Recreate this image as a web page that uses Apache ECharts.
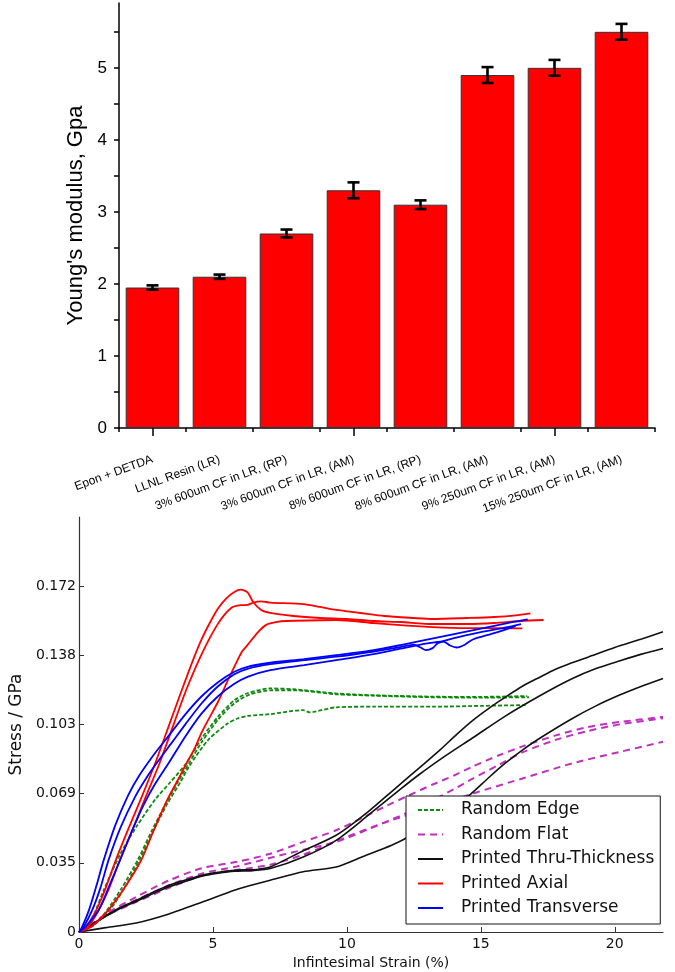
<!DOCTYPE html>
<html><head><meta charset="utf-8">
<script src="https://cdn.jsdelivr.net/npm/echarts@6/dist/echarts.min.js"></script>
<style>html,body{margin:0;padding:0;background:#fff}#c{width:675px;height:972px}</style>
</head><body><div id="c"></div>
<script>
// ---------- Top chart data ----------
var categories = ['Epon + DETDA','LLNL Resin (LR)','3% 600um CF in LR, (RP)','3% 600um CF in LR, (AM)','8% 600um CF in LR, (RP)','8% 600um CF in LR, (AM)','9% 250um CF in LR, (AM)','15% 250um CF in LR, (AM)'];
var modulus = [1.95, 2.10, 2.70, 3.30, 3.10, 4.90, 5.00, 5.50];
var modulusErr = [0.03, 0.03, 0.055, 0.11, 0.06, 0.11, 0.11, 0.11];
var yTicksTop = [0, 1, 2, 3, 4, 5];
var yMinorTop = [0.5, 1.5, 2.5, 3.5, 4.5, 5.5];

// ---------- Bottom chart data (strain %, stress GPa) ----------
var xTicksBottom = [0, 5, 10, 15, 20];
var yTickLabelsBottom = ['0', '0.035', '0.069', '0.103', '0.138', '0.172'];
var yTickStepBottom = 0.0344738; // 5 ksi in GPa

var edge1 = [[0,0],[0.3,0.003],[0.6,0.01],[0.92,0.0208],[1.53,0.0385],[2.14,0.0524],[2.87,0.0665],[3.4,0.0745],[3.97,0.0835],[4.58,0.0965],[5.19,0.1073],[5.8,0.1155],[6.29,0.119],[7.14,0.1214],[8.0,0.121],[9.6,0.1189],[11,0.118],[13.2,0.1173],[15,0.1172],[16.73,0.1176]];
var edge2 = [[0,0],[0.5,0.003],[1.1,0.01],[1.7,0.022],[2.3,0.037],[2.8,0.051],[3.3,0.064],[3.8,0.075],[4.1,0.0823],[4.82,0.0957],[5.56,0.104],[5.92,0.1064],[6.29,0.1077],[7.14,0.1086],[8.37,0.1106],[8.6,0.1095],[8.8,0.1098],[9.6,0.112],[11,0.1123],[13.2,0.1123],[15,0.1127],[16.67,0.1131]];
var edge3 = [[0,0],[0.5,0.003],[1.0,0.01],[1.6,0.022],[2.2,0.036],[2.7,0.05],[3.2,0.063],[3.7,0.075],[4.1,0.084],[4.6,0.095],[5.2,0.106],[5.8,0.114],[6.4,0.1185],[7.2,0.1205],[8.0,0.1205],[9.6,0.1185],[11,0.1178],[13.2,0.117],[15,0.1168],[16.8,0.117]];

var flat1 = [[0,0],[0.5,0.004],[1.0,0.009],[2.14,0.0175],[3.36,0.0257],[4.58,0.0318],[5.92,0.035],[7.14,0.039],[8.37,0.0449],[9.6,0.0507],[10.56,0.0568],[11.5,0.063],[12.3,0.068],[13.2,0.0735],[14.0,0.078],[14.7,0.0825],[15.7,0.0882],[16.55,0.0925],[17.8,0.098],[19.0,0.1022],[20.2,0.1047],[21.8,0.1072]];
var flat2 = [[0,0],[1.0,0.008],[2.14,0.016],[3.36,0.0233],[4.58,0.0291],[5.92,0.0328],[7.75,0.039],[9.6,0.0449],[10.8,0.0512],[12.26,0.0595],[13.2,0.0657],[14.0,0.0712],[14.7,0.0765],[15.7,0.0835],[16.55,0.0895],[17.8,0.0958],[19.0,0.1002],[20.2,0.1035],[21.8,0.1065]];
var flat3 = [[0,0],[1.0,0.008],[2.14,0.015],[3.36,0.022],[4.58,0.028],[5.92,0.031],[7.14,0.0335],[8.37,0.0385],[10.2,0.0485],[11.4,0.0545],[13.2,0.0623],[14.7,0.069],[16.55,0.0765],[18.4,0.084],[20.2,0.0898],[21.8,0.0948]];

var thru1 = [[0,0],[0.5,0.004],[0.92,0.0075],[1.5,0.012],[2.14,0.0158],[2.75,0.0197],[3.36,0.0233],[4.0,0.026],[4.58,0.0283],[5.2,0.0298],[5.8,0.0308],[6.3,0.031],[6.7,0.0313],[7.14,0.0324],[8.37,0.0405],[9.6,0.0482],[10.8,0.06],[11.8,0.0715],[12.88,0.0838],[13.5,0.091],[14.1,0.0985],[14.7,0.1055],[15.3,0.1115],[16.0,0.1178],[16.55,0.1225],[17.2,0.127],[17.77,0.1308],[18.4,0.1342],[19.0,0.137],[20.0,0.1418],[21.0,0.146],[21.8,0.1496]];
var thru2 = [[0,0],[0.5,0.0038],[0.92,0.0072],[1.5,0.0115],[2.14,0.0152],[2.75,0.019],[3.36,0.0225],[4.0,0.0254],[4.58,0.0278],[5.2,0.0293],[5.8,0.0303],[6.5,0.0306],[7.14,0.0316],[8.37,0.0374],[9.6,0.0457],[10.8,0.0582],[12.0,0.0712],[12.7,0.0785],[13.5,0.0862],[14.7,0.0968],[15.9,0.1075],[17.17,0.1175],[18.4,0.1262],[19.3,0.1313],[20.2,0.1352],[21.0,0.1385],[21.8,0.1413]];
var thru3 = [[0,0],[1.0,0.0022],[2.14,0.0045],[3.36,0.009],[4.58,0.0148],[5.8,0.0208],[6.29,0.0228],[7.14,0.0258],[8.37,0.030],[9.6,0.0324],[10.56,0.0374],[11.67,0.0432],[12.4,0.0482],[13.0,0.054],[13.6,0.0605],[14.1,0.0635],[14.6,0.0685],[15.3,0.077],[15.9,0.084],[16.5,0.0902],[17.17,0.0963],[18.4,0.1063],[19.3,0.1127],[20.2,0.1182],[21.0,0.1225],[21.8,0.1264]];

var axial1 = [[0,0],[0.3,0.003],[0.65,0.011],[1.0,0.022],[1.35,0.035],[1.8,0.05],[2.3,0.066],[2.87,0.085],[3.36,0.103],[3.85,0.121],[4.3,0.137],[4.58,0.146],[4.9,0.1545],[5.19,0.1612],[5.5,0.1663],[5.8,0.1695],[6.04,0.1706],[6.3,0.1692],[6.5,0.1645],[6.8,0.1605],[7.14,0.159],[8.0,0.1575],[9.0,0.1565],[10,0.156],[11,0.155],[12,0.1545],[13.2,0.1535],[14.5,0.1535],[15.5,0.154],[16.5,0.155],[17.34,0.1555]];
var axial2 = [[0,0],[0.3,0.002],[0.7,0.01],[1.1,0.021],[1.5,0.035],[2.0,0.051],[2.45,0.066],[2.99,0.0835],[3.36,0.097],[3.97,0.1195],[4.58,0.1385],[5.19,0.1537],[5.68,0.1615],[6.04,0.1629],[6.3,0.163],[6.5,0.1642],[6.8,0.1648],[7.14,0.1642],[8.37,0.1634],[9.0,0.162],[9.6,0.1605],[10.5,0.159],[11.4,0.1575],[12.5,0.1565],[13.2,0.156],[14.5,0.1565],[15.5,0.157],[16.3,0.1578],[16.85,0.1588]];
var axial3 = [[0,0],[0.5,0.003],[1.1,0.011],[1.7,0.022],[2.32,0.0357],[2.8,0.051],[3.3,0.066],[3.7,0.076],[4.03,0.0845],[4.3,0.091],[4.58,0.0995],[4.82,0.1056],[5.2,0.115],[5.56,0.1255],[5.92,0.1355],[6.1,0.14],[6.29,0.143],[6.65,0.149],[7.0,0.1532],[7.4,0.1546],[7.75,0.155],[9.6,0.1555],[11,0.154],[12,0.153],[13.2,0.152],[14.5,0.1515],[15.5,0.1515],[16.55,0.1513]];

var trans1 = [[0,0],[0.1,0.002],[0.37,0.0108],[0.65,0.023],[0.92,0.0357],[1.35,0.053],[1.83,0.068],[2.25,0.078],[2.8,0.0885],[3.36,0.098],[3.97,0.1085],[4.58,0.1175],[5.19,0.1245],[5.8,0.1297],[6.29,0.1322],[7.14,0.1342],[8.4,0.136],[9.6,0.138],[11,0.1405],[12,0.143],[12.9,0.1455],[14,0.1485],[15,0.1512],[16,0.154],[16.75,0.1558]];
var trans2 = [[0,0],[0.15,0.002],[0.49,0.0108],[0.8,0.022],[1.1,0.0357],[1.55,0.052],[2.08,0.067],[2.55,0.0775],[3.0,0.086],[3.5,0.095],[3.97,0.1035],[4.58,0.114],[5.19,0.1225],[5.8,0.1285],[6.29,0.1312],[7.14,0.1335],[8.4,0.1355],[9.6,0.1372],[11,0.1398],[12,0.142],[12.5,0.1432],[12.75,0.1418],[12.95,0.1405],[13.2,0.1415],[13.4,0.144],[14,0.1465],[15,0.1495],[16,0.152],[16.5,0.1535]];
var trans3 = [[0,0],[0.2,0.002],[0.73,0.0108],[1.1,0.022],[1.53,0.0357],[2.0,0.051],[2.4,0.063],[2.85,0.074],[3.36,0.0845],[3.97,0.0975],[4.58,0.109],[5.19,0.1175],[5.8,0.1237],[6.29,0.1272],[7.14,0.1305],[8.4,0.133],[9.6,0.1355],[11,0.1385],[12,0.1412],[13,0.1438],[13.6,0.1448],[13.85,0.1428],[14.1,0.1418],[14.4,0.1432],[14.7,0.1458],[15.5,0.149],[16.3,0.1525]];

// ---------- Chart ----------
var chart = echarts.init(document.getElementById('c'), null, {renderer: 'canvas'});

var FT = 'Liberation Sans, Arial, sans-serif';
var FB = 'DejaVu Sans, sans-serif';

var groups = [
  {name: 'Random Edge', color: '#118811', type: [4, 2], width: 1.8, curves: [edge1, edge2, edge3]},
  {name: 'Random Flat', color: '#bf30bf', type: [7, 5], width: 2, curves: [flat1, flat2, flat3]},
  {name: 'Printed Thru-Thickness', color: '#111111', type: 'solid', width: 1.6, curves: [thru1, thru2, thru3]},
  {name: 'Printed Axial', color: '#ff0000', type: 'solid', width: 1.8, curves: [axial1, axial2, axial3]},
  {name: 'Printed Transverse', color: '#0000ff', type: 'solid', width: 1.8, curves: [trans1, trans2, trans3]}
];

var lineSeries = [];
groups.forEach(function (g) {
  g.curves.forEach(function (c) {
    lineSeries.push({
      type: 'line', name: g.name, xAxisIndex: 2, yAxisIndex: 1,
      data: c, symbol: 'none', showSymbol: false, smooth: 0.25,
      lineStyle: {color: g.color, width: g.width, type: g.type},
      itemStyle: {color: g.color},
      animation: false, silent: true
    });
  });
});

var errData = modulus.map(function (v, i) { return [i, v - modulusErr[i], v + modulusErr[i]]; });

var option = {
  animation: false,
  backgroundColor: '#ffffff',
  grid: [
    {left: 119, top: 3, width: 536, height: 425, containLabel: false},
    {left: 68, top: 517, width: 595, height: 415, containLabel: false}
  ],
  xAxis: [
    {
      type: 'category', gridIndex: 0, data: categories, position: 'bottom',
      axisLine: {lineStyle: {color: '#000', width: 1.5}},
      axisTick: {show: true, length: 4, alignWithLabel: false, lineStyle: {color: '#000', width: 1.5}},
      axisLabel: {rotate: 20, fontSize: 12, fontFamily: FT, color: '#000', margin: 31, interval: 0},
      splitLine: {show: false}
    },
    {
      type: 'category', gridIndex: 0, data: categories, position: 'bottom',
      axisLine: {show: false},
      axisTick: {show: true, length: 8, alignWithLabel: true, lineStyle: {color: '#000', width: 1.5}},
      axisLabel: {show: false},
      splitLine: {show: false}
    },
    {
      type: 'value', gridIndex: 1, min: 0, max: 21.8,
      axisLine: {lineStyle: {color: '#333', width: 1.2}},
      axisTick: {show: true, inside: true, length: 5, customValues: xTicksBottom, lineStyle: {color: '#333'}},
      axisLabel: {customValues: xTicksBottom, fontSize: 14, fontFamily: FB, color: '#111', margin: 5},
      splitLine: {show: false},
      name: 'Infintesimal Strain (%)', nameLocation: 'middle', nameGap: 24,
      nameTextStyle: {fontSize: 14, fontFamily: FB, color: '#111'}
    }
  ],
  yAxis: [
    {
      type: 'value', gridIndex: 0, min: 0, max: 5.9,
      axisLine: {show: true, lineStyle: {color: '#000', width: 1.5}},
      axisTick: {show: true, length: 5, customValues: yTicksTop.concat(yMinorTop), lineStyle: {color: '#000', width: 1.5}},
      axisLabel: {customValues: yTicksTop, fontSize: 17, fontFamily: FT, color: '#000', margin: 12},
      splitLine: {show: false},
      name: "Young's modulus, Gpa", nameLocation: 'middle', nameGap: 31, nameRotate: 90,
      nameTextStyle: {fontSize: 22, fontFamily: FT, color: '#000'}
    },
    {
      type: 'value', gridIndex: 1, min: 0, max: yTickStepBottom * 6,
      axisLine: {show: true, lineStyle: {color: '#333', width: 1.2}},
      axisTick: {show: true, inside: true, length: 5,
        customValues: yTickLabelsBottom.map(function (_, i) { return i * yTickStepBottom; }),
        lineStyle: {color: '#333'}},
      axisLabel: {
        customValues: yTickLabelsBottom.map(function (_, i) { return i * yTickStepBottom; }),
        formatter: function (v) { var k = Math.round(v / yTickStepBottom); return yTickLabelsBottom[k] || ''; },
        fontSize: 14, fontFamily: FB, color: '#111', margin: 3
      },
      splitLine: {show: false},
      name: 'Stress / GPa', nameLocation: 'middle', nameGap: 47, nameRotate: 90,
      nameTextStyle: {fontSize: 17, fontFamily: FB, color: '#111'}
    }
  ],
  legend: {
    data: groups.map(function (g) { return g.name; }),
    orient: 'vertical', left: 406, top: 796,
    itemWidth: 25, itemHeight: 10, itemGap: 4.5,
    padding: [4, 6, 6, 11],
    itemStyle: {opacity: 0},
    backgroundColor: '#fff', borderColor: '#111', borderWidth: 1, borderRadius: 0,
    textStyle: {fontSize: 17, fontFamily: FB, color: '#111', lineHeight: 20, padding: [0, 0, 0, 13]},
    selectedMode: false
  },
  series: [
    {
      type: 'bar', xAxisIndex: 0, yAxisIndex: 0, data: modulus,
      barCategoryGap: '20%',
      itemStyle: {color: '#ff0000', borderColor: '#333', borderWidth: 1},
      silent: true
    },
    {
      type: 'custom', xAxisIndex: 0, yAxisIndex: 0, data: errData,
      encode: {x: 0, y: [1, 2]}, silent: true, z: 5,
      renderItem: function (params, api) {
        var x = api.value(0), lo = api.value(1), hi = api.value(2);
        var pLo = api.coord([x, lo]), pHi = api.coord([x, hi]);
        var hw = 6, st = {stroke: '#000', lineWidth: 2.6};
        return {type: 'group', children: [
          {type: 'line', shape: {x1: pLo[0], y1: pLo[1], x2: pHi[0], y2: pHi[1]}, style: st},
          {type: 'line', shape: {x1: pLo[0] - hw, y1: pLo[1], x2: pLo[0] + hw, y2: pLo[1]}, style: st},
          {type: 'line', shape: {x1: pHi[0] - hw, y1: pHi[1], x2: pHi[0] + hw, y2: pHi[1]}, style: st}
        ]};
      }
    }
  ].concat(lineSeries)
};
chart.setOption(option);
</script></body></html>
